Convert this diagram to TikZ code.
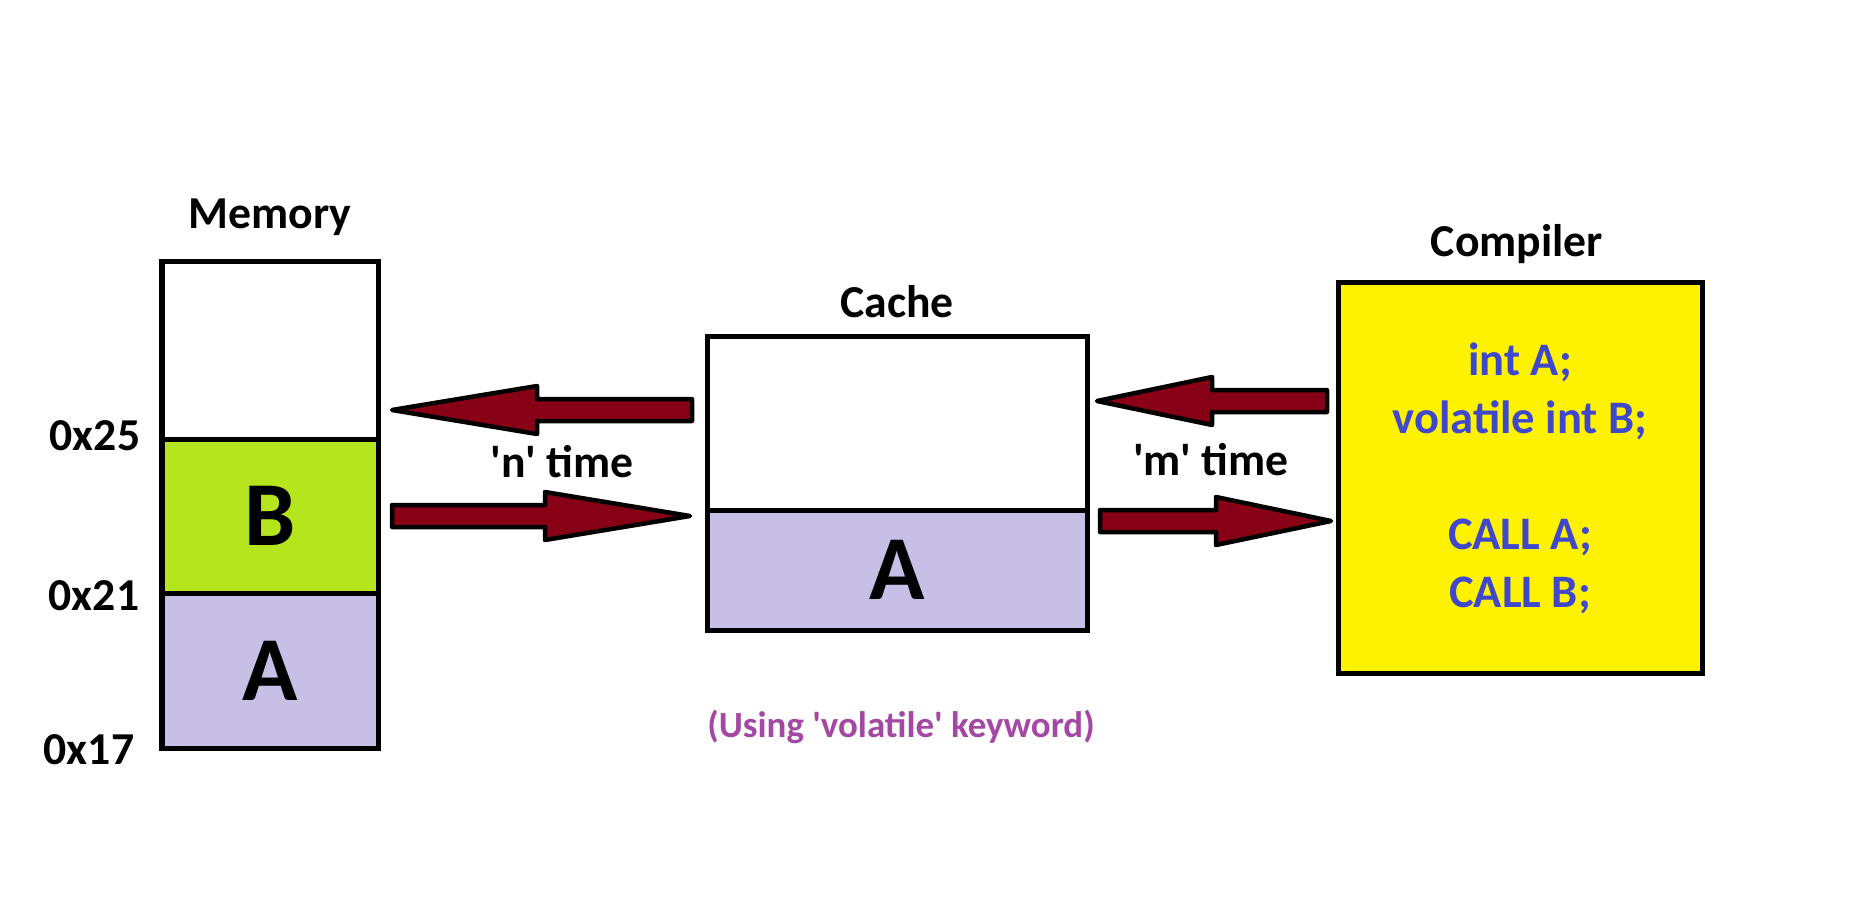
\documentclass[tikz,border=0pt]{standalone}
\usepackage{fontspec}
\setmainfont{Carlito}
\usetikzlibrary{positioning, calc}
\definecolor{memgreen}{HTML}{B5E61D}
\definecolor{lavend}{HTML}{C8BFE7}
\definecolor{compyellow}{HTML}{FFF200}
\definecolor{arrowred}{HTML}{880015}
\definecolor{codeblue}{HTML}{3F48CC}
\definecolor{notepurple}{HTML}{A349A4}
\newcommand{\sq}{\textquotesingle}

\tikzset{
  cell/.style={draw=black, line width=1mm, outer sep=0pt, inner sep=0pt,
    font=\fontsize{52}{60}\selectfont\bfseries},
  lbl/.style={font=\fontsize{26}{32}\selectfont\bfseries, inner sep=0pt, anchor=base},
  note/.style={font=\fontsize{21}{25}\selectfont\bfseries, text=notepurple, inner sep=0pt, anchor=base},
  % block arrow from start to target, #1 = head length
  fatarrow/.style={draw=black, fill=arrowred, line width=0.9mm, line join=round,
    to path={
      ($(\tikztostart)!2.2mm!90:(\tikztotarget)$)
      -- ($(\tikztotarget)!#1!(\tikztostart)!2.2mm!90:(\tikztotarget)$)
      -- ($(\tikztotarget)!#1!(\tikztostart)!4.8mm!90:(\tikztotarget)$)
      -- (\tikztotarget)
      -- ($(\tikztotarget)!#1!(\tikztostart)!4.8mm!-90:(\tikztotarget)$)
      -- ($(\tikztotarget)!#1!(\tikztostart)!2.2mm!-90:(\tikztotarget)$)
      -- ($(\tikztostart)!2.2mm!-90:(\tikztotarget)$) -- cycle}},
  fatarrow/.default=29mm
}

\begin{document}
\begin{tikzpicture}[x=0.2mm, y=-0.2mm]
% 1 unit = 1 px of the 1871 x 922 canvas, y runs downwards
\useasboundingbox (0,0) rectangle (1871,922);

% ================================================================
% MEMORY: three cells, x 162..378
% ================================================================
\node[cell, minimum width=43.2mm, minimum height=35.6mm] (memfree) at (270,350) {};
\node[cell, fill=memgreen, minimum width=43.2mm, minimum height=30.8mm,
  below=0pt of memfree] (memB) {B};
\node[cell, fill=lavend, minimum width=43.2mm, minimum height=31mm,
  below=0pt of memB] (memA) {A};
\node[lbl] (memlbl) at (270,228) {Memory};

% addresses at the cell borders
\node[lbl] (addr25) at (95,450) {0x25};
\node[lbl] (addr21) at (94,610) {0x21};
\node[lbl] (addr17) at (89,764) {0x17};

% ================================================================
% CACHE: x 707..1087
% ================================================================
\node[cell, minimum width=76mm, minimum height=34.8mm] (cachefree) at (897,423) {};
\node[cell, fill=lavend, minimum width=76mm, minimum height=24mm,
  below=0pt of cachefree] (cacheA) {A};
\node[lbl] (cachelbl) at (897,317) {Cache};

% ================================================================
% COMPILER: x 1338..1702
% ================================================================
\node[cell, fill=compyellow, minimum width=72.8mm, minimum height=78mm,
  font=\fontsize{26.5}{33}\selectfont\bfseries, text=codeblue, align=center]
  (comp) at (1520,478)
  {int A;\\ volatile int B;\\[33pt] CALL A;\\ CALL B;};
\node[lbl] (complbl) at (1517,256) {Compiler};

% ================================================================
% ARROWS
% ================================================================
\coordinate (nback-tail) at (692,410);
\coordinate (nback-tip)  at (392,410);
\coordinate (nfwd-tail)  at (392,516);
\coordinate (nfwd-tip)   at (690,516);
\coordinate (mback-tail) at (1327,401);
\coordinate (mback-tip)  at (1097,401);
\coordinate (mfwd-tail)  at (1100,521);
\coordinate (mfwd-tip)   at (1331,521);

\draw[fatarrow] (nback-tail) to (nback-tip);
\draw[fatarrow] (nfwd-tail) to (nfwd-tip);
\draw[fatarrow=23mm] (mback-tail) to (mback-tip);
\draw[fatarrow=23mm] (mfwd-tail) to (mfwd-tip);

\node[lbl] (ntime) at (562,477) {\sq n\sq{} time};
\node[lbl] (mtime) at (1211,475) {\sq m\sq{} time};

% bottom note
\node[note] (usenote) at (901,737) {(Using \sq volatile\sq{} keyword)};

\end{tikzpicture}
\end{document}
